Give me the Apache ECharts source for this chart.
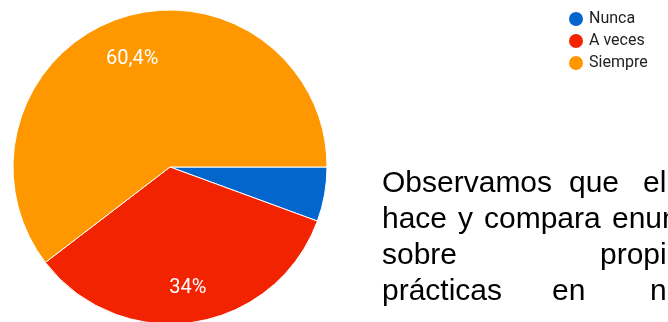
<!DOCTYPE html>
<html>
<head>
<meta charset="utf-8">
<script src="https://cdn.jsdelivr.net/npm/echarts@6/dist/echarts.min.js"></script>
<style>
  html, body { margin: 0; padding: 0; background: #fff; overflow: hidden; }
  #chart { width: 668px; height: 322px; }
</style>
</head>
<body>
<div id="chart"></div>
<script>
// Answer categories and their share of responses (%)
const categories = ['Nunca', 'A veces', 'Siempre'];
const percentages = [5.6, 34, 60.4];
const sliceColors = ['#0366cd', '#f22300', '#ff9800'];

// Paragraph beside the chart, one entry per line, words justified across the line
const paragraphLines = [
  ['Observamos', 'que', 'el', 'docente'],
  ['hace', 'y', 'compara', 'enunciados'],
  ['sobre', 'propiedades'],
  ['prácticas', 'en', 'nuestra']
];
const wordStarts = [
  [382, 569, 643, 690],
  [382, 458, 484, 612],
  [382, 600],
  [382, 552, 650]
];

const pieData = categories.map((name, i) => ({
  name,
  value: percentages[i],
  itemStyle: { color: sliceColors[i] }
}));

const fmt = v => String(v).replace('.', ',') + '%';

const textEls = [];
paragraphLines.forEach((words, li) => {
  words.forEach((w, wi) => {
    textEls.push({
      type: 'text',
      left: wordStarts[li][wi],
      top: 169 + li * 36,
      style: {
        text: w,
        font: '30px "Liberation Sans", Arial, sans-serif',
        fill: '#000'
      },
      silent: true
    });
  });
});

const chart = echarts.init(document.getElementById('chart'), null, { renderer: 'canvas' });
chart.setOption({
  animation: false,
  legend: {
    orient: 'vertical',
    left: 562,
    top: 5,
    icon: 'circle',
    itemWidth: 16,
    itemHeight: 16,
    itemGap: 4,
    data: categories,
    textStyle: { fontFamily: 'Roboto, sans-serif', fontSize: 16, lineHeight: 16, color: '#222' }
  },
  graphic: textEls,
  series: [
    {
      type: 'pie',
      center: [170, 167],
      radius: 157,
      startAngle: 0,
      clockwise: true,
      silent: true,
      label: { show: false },
      labelLine: { show: false },
      itemStyle: { borderColor: '#fff', borderWidth: 1 },
      data: pieData
    },
    {
      // transparent ring used only to place the percentage labels
      type: 'pie',
      center: [170, 167],
      radius: 230,
      startAngle: 0,
      clockwise: true,
      silent: true,
      legendHoverLink: false,
      itemStyle: { color: 'rgba(0,0,0,0)', borderWidth: 0 },
      label: {
        show: true,
        position: 'inside',
        formatter: p => p.dataIndex === 0 ? '' : fmt(p.value),
        color: '#fff',
        fontFamily: 'Roboto, sans-serif',
        fontSize: 20,
        fontWeight: 'normal',
        textBorderWidth: 0
      },
      labelLayout: { dy: 4 },
      labelLine: { show: false },
      data: categories.map((name, i) => ({ name: name + ' ', value: percentages[i] }))
    }
  ]
});
</script>
</body>
</html>
